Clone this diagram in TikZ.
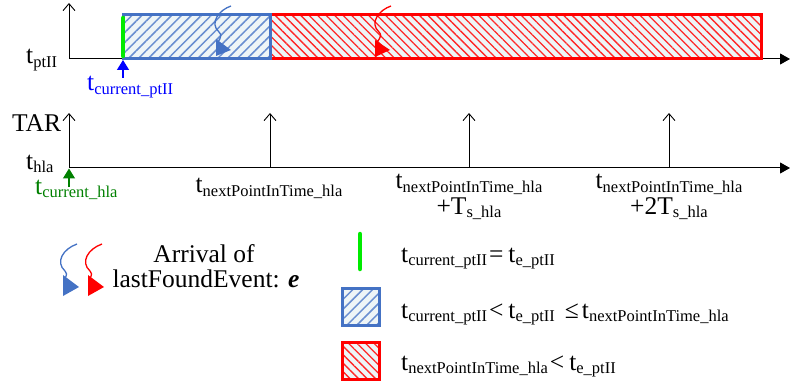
\documentclass[tikz,border=0pt]{standalone}
\usepackage{fontspec}
\setmainfont{Liberation Serif}
\usetikzlibrary{arrows.meta,patterns.meta}
\definecolor{ofblue}{RGB}{68,114,196}
\definecolor{limegr}{RGB}{0,235,0}
\definecolor{dkgreen}{RGB}{0,128,0}
\definecolor{pureblue}{RGB}{0,0,255}
\definecolor{hatchbg}{RGB}{238,245,247}
\newcommand{\sbs}[1]{\raisebox{-3.5pt}{\fontsize{16.5}{17}\selectfont #1}}
\begin{document}
\begin{tikzpicture}[x=1pt,y=-1pt,font=\fontsize{25.5}{28}\selectfont,
  lbl/.style={inner sep=0pt,anchor=base west},
  lblc/.style={inner sep=0pt,anchor=base},
  haxis/.style={line width=1pt,-{Triangle[length=10pt,width=11pt]}},
  vaxis/.style={line width=0.9pt,-{Straight Barb[length=7pt,width=12pt]}},
  bluehatch/.style={draw=ofblue,line width=3pt,preaction={fill=hatchbg},
    pattern={Lines[angle=45,distance=7pt,line width=1.5pt]},pattern color=ofblue!80},
  redhatch/.style={draw=red,line width=3pt,preaction={fill=hatchbg},
    pattern={Lines[angle=-45,distance=6pt,line width=1.3pt]},pattern color=red!85},
  greenbar/.style={limegr,line width=4.5pt,line cap=round},
  marker/.style={line width=1.3pt,-{Triangle[length=10pt,width=12pt]}},
  squiggle/.style={line width=1.3pt}]
\useasboundingbox (0,0) rectangle (790,385);

% ---- t_ptII axis ----
\coordinate (o1) at (69,59);
\coordinate (x1) at (790,59);
\coordinate (y1) at (69,3);
\draw[haxis] (o1) -- (x1);
\draw[vaxis] (o1) -- (y1);

\node[redhatch,minimum width=491pt,minimum height=44pt,anchor=south west,inner sep=0pt] (late) at (270,59) {};
\node[bluehatch,minimum width=147pt,minimum height=44pt,anchor=south west,inner sep=0pt] (early) at (123,59) {};
\coordinate (g1a) at (123,18);
\coordinate (g1b) at (123,56);
\draw[greenbar] (g1a) -- (g1b);

% arrival arrows on the time line
\coordinate (bs1) at (231,6);
\coordinate (be1) at (217,45);
\draw[squiggle,ofblue] (bs1) .. controls (219,10) and (209,23) .. (219,32) .. controls (224,37) and (217,41) .. (be1);
\fill[ofblue] (216,39) -- (216,56) -- (231,50) -- cycle;
\coordinate (rs1) at (391,6);
\coordinate (re1) at (376,45);
\draw[squiggle,red] (rs1) .. controls (379,10) and (369,23) .. (379,32) .. controls (384,37) and (376,41) .. (re1);
\fill[red] (375,40) -- (375,57) -- (390,50) -- cycle;

\coordinate (mb1) at (123,78);
\coordinate (mt1) at (123,60);
\draw[marker,pureblue] (mb1) -- (mt1);

\node[lbl] (tpt) at (26,64) {t\sbs{ptII}};
\node[lbl,pureblue] (tcur) at (87,91) {t\sbs{current\_ptII}};

% ---- t_hla axis ----
\coordinate (o2) at (69,168);
\coordinate (x2) at (790,168);
\coordinate (y2) at (69,113);
\draw[haxis] (o2) -- (x2);
\draw[vaxis] (o2) -- (y2);
\coordinate (k1) at (270,168);
\coordinate (k1t) at (270,113);
\coordinate (k2) at (469,168);
\coordinate (k2t) at (469,113);
\coordinate (k3) at (669,168);
\coordinate (k3t) at (669,113);
\draw[vaxis] (k1) -- (k1t);
\draw[vaxis] (k2) -- (k2t);
\draw[vaxis] (k3) -- (k3t);

\coordinate (mb2) at (69,187);
\coordinate (mt2) at (69,168.5);
\draw[marker,dkgreen] (mb2) -- (mt2);

\node[lbl] (tar) at (12,132) {TAR};
\node[lbl] (thla) at (26,169) {t\sbs{hla}};
\node[lbl,dkgreen] (tcurh) at (35,194) {t\sbs{current\_hla}};
\node[lblc] (n1) at (269,193) {t\sbs{nextPointInTime\_hla}};
\node[lblc] (n2) at (469,189) {t\sbs{nextPointInTime\_hla}};
\node[lblc] (n2b) at (469,214) {+T\sbs{s\_hla}};
\node[lblc] (n3) at (669,189) {t\sbs{nextPointInTime\_hla}};
\node[lblc] (n3b) at (669,214) {+2T\sbs{s\_hla}};

% ---- legend ----
\coordinate (bs2) at (77,244);
\coordinate (be2) at (64,281);
\draw[squiggle,ofblue] (bs2) .. controls (63,249) and (55,262) .. (65,271) .. controls (69,275) and (64,278) .. (be2);
\fill[ofblue] (63,275) -- (63,296) -- (79,287) -- cycle;
\coordinate (rs2) at (102,244);
\coordinate (re2) at (89,281);
\draw[squiggle,red] (rs2) .. controls (88,249) and (80,262) .. (90,271) .. controls (94,275) and (89,278) .. (re2);
\fill[red] (88,275) -- (88,296) -- (104,287) -- cycle;

\node[lblc] (arr1) at (204,262) {Arrival of};
\node[lblc] (arr2) at (206,287) {lastFoundEvent: \textbf{\textit{e}}};

\coordinate (g2a) at (360,234);
\coordinate (g2b) at (360,269);
\draw[greenbar] (g2a) -- (g2b);
\node[bluehatch,minimum size=37pt,inner sep=0pt] (lb) at (360.5,306.5) {};
\node[redhatch,minimum size=37pt,inner sep=0pt] (lr) at (360.5,361) {};

\node[lbl] (leg1) at (401,262) {t\sbs{current\_ptII}\hspace{2pt}=\hspace{5pt}t\sbs{e\_ptII}};
\node[lbl] (leg2) at (401,318) {t\sbs{current\_ptII}\hspace{2pt}<\hspace{5pt}t\sbs{e\_ptII}\hspace{10pt}≤\hspace{3pt}t\sbs{nextPointInTime\_hla}};
\node[lbl] (leg3) at (401,370) {t\sbs{nextPointInTime\_hla}\hspace{2pt}<\hspace{5pt}t\sbs{e\_ptII}};
\end{tikzpicture}
\end{document}
